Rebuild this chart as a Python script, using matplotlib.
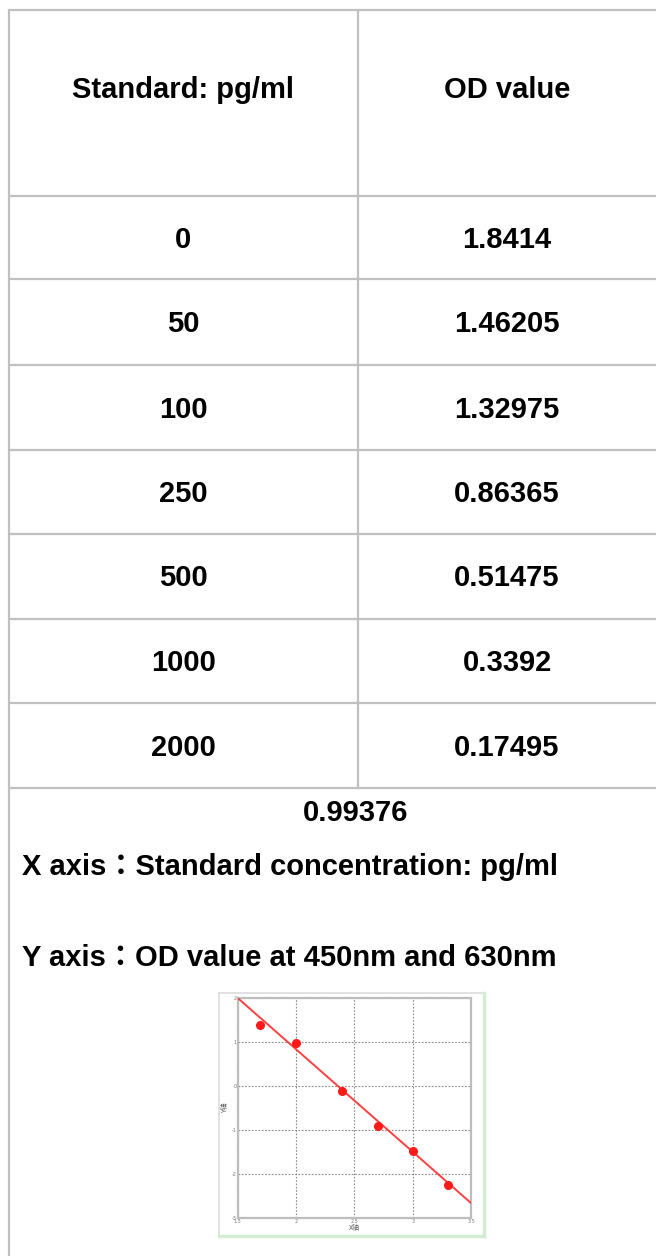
import matplotlib
matplotlib.use("Agg")
import matplotlib.pyplot as plt

# ---- data ----
col_headers = ["Standard: pg/ml", "OD value"]
concentrations = ["0", "50", "100", "250", "500", "1000", "2000"]
od_values = ["1.8414", "1.46205", "1.32975", "0.86365", "0.51475", "0.3392", "0.17495"]
r_value = "0.99376"
x_axis_note = "X axis\uff1aStandard concentration: pg/ml"
y_axis_note = "Y axis\uff1aOD value at 450nm and 630nm"

# mini standard-curve chart
curve_x = [1.69, 2.00, 2.39, 2.70, 3.00, 3.30]
curve_y = [1.39, 0.98, -0.11, -0.92, -1.48, -2.26]
fit_slope = -2.33
fit_intercept = 5.495
x_ticks = [1.5, 2, 2.5, 3, 3.5]
x_tick_labels = ["1.5", "2", "2.5", "3", "3.5"]
y_ticks = [-3, -2, -1, 0, 1, 2]
y_tick_labels = ["-3", "-2", "-1", "0", "1", "2"]

W, H = 656, 1256
fig = plt.figure(figsize=(W / 100, H / 100), dpi=100)
fig.patch.set_facecolor("white")

ax = fig.add_axes([0, 0, 1, 1])
ax.set_xlim(0, W)
ax.set_ylim(H, 0)
ax.axis("off")

line_c = "#c0c0c0"
lw = 1.6
fam = ["Liberation Sans", "Noto Sans CJK TC", "DejaVu Sans"]
fs = 21

# table geometry
left_x, div_x = 9, 358
row_lines = [10, 196, 279, 365, 450, 534, 619, 703, 788]

for y in row_lines:
    ax.plot([left_x, W + 5], [y, y], color=line_c, lw=lw, solid_capstyle="butt")
ax.plot([left_x, left_x], [row_lines[0], H + 5], color=line_c, lw=lw)
ax.plot([div_x, div_x], [row_lines[0], row_lines[-1]], color=line_c, lw=lw)

c1 = (left_x + div_x) / 2
c2 = (div_x + W) / 2

ax.text(c1, 90, col_headers[0], ha="center", va="center", fontsize=fs,
        fontweight="bold", family=fam)
ax.text(c2, 90, col_headers[1], ha="center", va="center", fontsize=fs,
        fontweight="bold", family=fam)

for i, (c, v) in enumerate(zip(concentrations, od_values)):
    yc = (row_lines[i + 1] + row_lines[i + 2]) / 2 + 2
    ax.text(c1, yc, c, ha="center", va="center", fontsize=fs, fontweight="bold", family=fam)
    ax.text(c2, yc, v, ha="center", va="center", fontsize=fs, fontweight="bold", family=fam)

ax.text(356, 813, r_value, ha="center", va="center", fontsize=fs, fontweight="bold", family=fam)
ax.text(22, 867, x_axis_note, ha="left", va="center", fontsize=fs, fontweight="bold", family=fam)
ax.text(22, 958, y_axis_note, ha="left", va="center", fontsize=fs, fontweight="bold", family=fam)

# picture frame of the small chart
ax.plot([219, 484], [993, 993], color="#dcdcdc", lw=1.2)
ax.plot([219, 219], [993, 1236], color="#dcdcdc", lw=1.2)
ax.plot([219, 484], [1236, 1236], color="#d4ecd4", lw=2.5)
ax.plot([484, 484], [993, 1236], color="#d4ecd4", lw=2.5)

# ---- mini chart ----
l, r, t, b = 237.7, 471, 998, 1218
cax = fig.add_axes([l / W, (H - b) / H, (r - l) / W, (b - t) / H])
cax.set_xlim(1.5, 3.5)
cax.set_ylim(-3, 2)
cax.set_xticks(x_ticks)
cax.set_xticklabels(x_tick_labels)
cax.set_yticks(y_ticks)
cax.set_yticklabels(y_tick_labels)
cax.tick_params(length=0, labelsize=3.5, labelcolor="#777777", pad=1)
for s in cax.spines.values():
    s.set_color("#bdbdbd")
    s.set_linewidth(1.6)
cax.grid(True, color="#8a8a8a", lw=0.8, linestyle=(0, (1.5, 1.5)))
cax.axline((0, fit_intercept), slope=fit_slope, color="#ff4040", lw=1.4, zorder=3)
cax.plot(curve_x, curve_y, "o", color="#ff1a1a", ms=5.5, zorder=4)
cax.set_xlabel("X轴", fontsize=5, family=["Noto Sans CJK SC"], labelpad=0, color="#555555")
cax.set_ylabel("Y轴", fontsize=5, family=["Noto Sans CJK SC"], labelpad=2, color="#555555")

fig.savefig("out.png", dpi=100, facecolor="white")
